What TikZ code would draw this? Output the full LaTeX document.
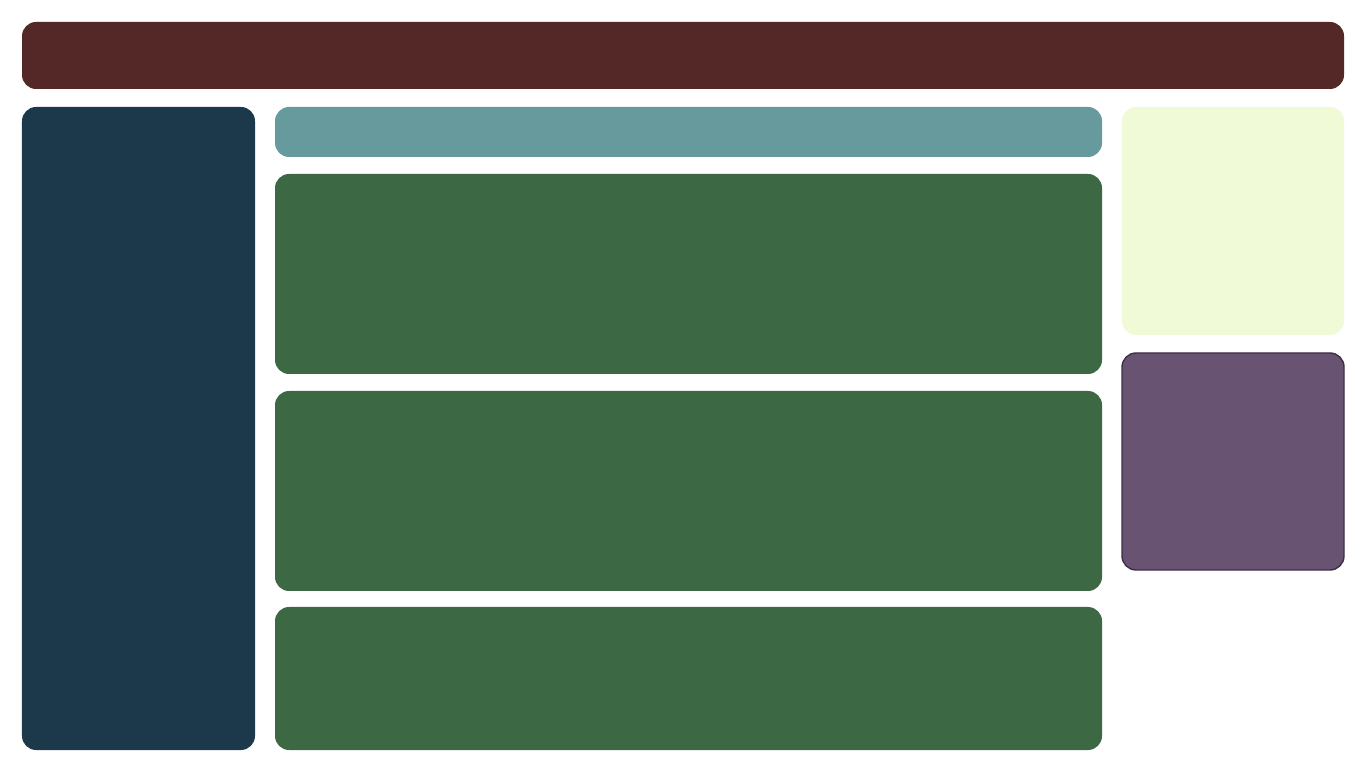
\documentclass[tikz,border=0pt]{standalone}
\usepackage{tikz}
\usetikzlibrary{positioning}
\definecolor{maroon}{HTML}{552828}
\definecolor{navy}{HTML}{1C384B}
\definecolor{sea}{HTML}{669A9C}
\definecolor{forest}{HTML}{3C6844}
\definecolor{cream}{HTML}{F1FAD7}
\definecolor{plum}{HTML}{685373}
\definecolor{plumedge}{HTML}{3E2F47}
\tikzset{panel/.style={rectangle,rounded corners=4pt,inner sep=0pt,outer sep=0pt,draw=none},bar/.style={panel,fill=maroon},side/.style={panel,fill=navy},strip/.style={panel,fill=sea},block/.style={panel,fill=forest,minimum width=8.27cm},note/.style={panel,fill=cream,minimum width=2.22cm},card/.style={panel,fill=plum,draw=plumedge,line width=.4pt,minimum width=2.22cm}}

\begin{document}
\begin{tikzpicture}
\useasboundingbox[fill=white] (0,0) rectangle (13.66,7.68);
\node[bar,minimum width=13.22cm,minimum height=.67cm] (header) at (6.83,7.125) {};
\node[side,minimum width=2.33cm,minimum height=6.43cm] (sidebar) at (1.385,3.395) {};
\node[strip,minimum width=8.27cm,minimum height=.5cm] (title) at (6.885,6.36) {};
\node[block,minimum height=2cm] (mainA) at (6.885,4.94) {};
\node[block,minimum height=2cm] (mainB) at (6.885,2.77) {};
\node[block,minimum height=1.43cm] (mainC) at (6.885,.895) {};
\node[note,minimum height=2.28cm] (info) at (12.33,5.47) {};
\node[card,minimum height=2.17cm] (extra) at (12.33,3.065) {};
\end{tikzpicture}
\end{document}
